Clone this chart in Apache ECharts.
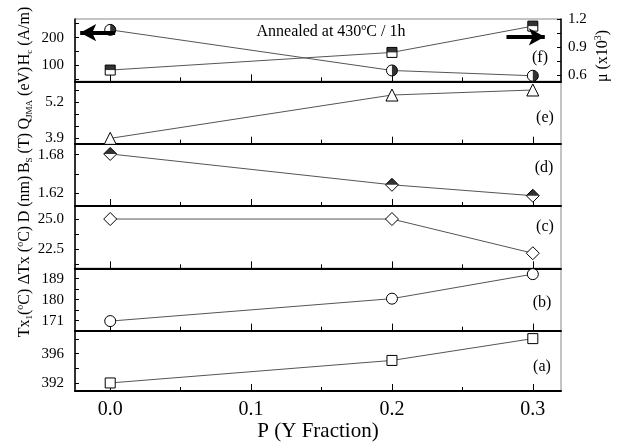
<!DOCTYPE html>
<html>
<head>
<meta charset="utf-8">
<script src="https://cdn.jsdelivr.net/npm/echarts@6/dist/echarts.min.js"></script>
<style>
  html, body { margin: 0; padding: 0; background: #fff; }
  #chart { width: 619px; height: 443px; }
</style>
</head>
<body>
<div id="chart"></div>
<script>
// --- data ---
var P = [0, 0.2, 0.3];
var hcVals = [228, 82, 63];          // Hc (A/m), left axis of panel f
var muVals = [0.656, 0.844, 1.124];  // mu (x10^3), right axis of panel f
var qVals = [3.9, 5.45, 5.63];       // Q_JMA (eV)
var bsVals = [1.681, 1.633, 1.616];  // Bs (T)
var dVals = [25.0, 25.0, 22.17];     // D (nm)
var dtxVals = [170.8, 180.4, 190.9]; // dTx (C)
var txVals = [392, 395.08, 398.06];  // Tx1 (C)

var xTicks = [0, 0.05, 0.1, 0.15, 0.2, 0.25, 0.3];
var xMajor = [0, 0.1, 0.2, 0.3];
var hcTicks = [50, 100, 150, 200, 250], hcLabels = [100, 200];
var muTicks = [0.6, 0.75, 0.9, 1.05, 1.2], muLabels = [0.6, 0.9, 1.2];
var qTicks = [3.9, 4.333, 4.767, 5.2, 5.633], qLabels = [3.9, 5.2];
var bsTicks = [1.62, 1.65, 1.68], bsLabels = [1.62, 1.68];
var dTicks = [21.25, 22.5, 23.75, 25], dLabels = [22.5, 25];
var dtxTicks = [171, 175.5, 180, 184.5, 189], dtxLabels = [171, 180, 189];
var txTicks = [392, 394, 396, 398], txLabels = [392, 396];

// arrows: [x from, x to (tip), y]
var hcArrow = [0.0035, -0.0213, 218];
var muArrow = [0.2813, 0.3085, 1.01];

var FONT = '"Liberation Serif", "DejaVu Serif", serif';
var rich = {
  sub: { fontSize: 9, fontFamily: FONT, padding: [9, 0, 0, 0] },
  sup: { fontSize: 10, fontFamily: FONT, padding: [0, 0, 9, 0] }
};

var chart = echarts.init(document.getElementById('chart'), null, { renderer: 'canvas' });

var panelTop = 19, panelH = 62.33;
var grids = [], xAxes = [], yAxes = [];
for (var i = 0; i < 6; i++) {
  grids.push({
    left: 75, right: 58, top: panelTop + i * panelH, height: panelH,
    show: true, borderColor: '#888', borderWidth: 1, backgroundColor: 'transparent'
  });
  xAxes.push({
    type: 'value', gridIndex: i, position: 'bottom', min: -0.025, max: 0.32,
    axisLine: { onZero: false, lineStyle: { color: '#000', width: 2 } },
    axisTick: { inside: true, length: 4, customValues: xTicks, lineStyle: { color: '#000', width: 1 } },
    axisLabel: {
      show: i === 5, customValues: xMajor, margin: 9,
      formatter: function(v) { return v.toFixed(1); },
      fontFamily: FONT, fontSize: 20, color: '#000'
    },
    splitLine: { show: false },
    name: i === 5 ? 'P (Y Fraction)' : '',
    nameLocation: 'middle', nameGap: 30,
    nameTextStyle: { fontFamily: FONT, fontSize: 21, color: '#000' }
  });
}
// second x axis per panel: longer ticks at the labelled positions
for (var j = 0; j < 6; j++) {
  xAxes.push({
    type: 'value', gridIndex: j, position: 'bottom', offset: 0, min: -0.025, max: 0.32,
    axisLine: { show: false, onZero: false },
    axisTick: { inside: true, length: 7, customValues: xMajor, lineStyle: { color: '#000', width: 1 } },
    axisLabel: { show: false },
    splitLine: { show: false }
  });
}

function leftAxis(idx, min, max, ticks, labels, digits) {
  return {
    type: 'value', gridIndex: idx, position: 'left', min: min, max: max,
    axisLine: { show: true, onZero: false, lineStyle: { color: '#000', width: 1.5 } },
    axisTick: { show: true, inside: true, length: 4, customValues: ticks, lineStyle: { color: '#000' } },
    axisLabel: {
      customValues: labels, margin: 11,
      formatter: function(v) { return v.toFixed(digits); },
      fontFamily: FONT, fontSize: 15, color: '#000'
    },
    splitLine: { show: false }
  };
}
yAxes.push(leftAxis(0, 43, 267, hcTicks, hcLabels, 0));
yAxes.push(leftAxis(1, 3.71, 5.94, qTicks, qLabels, 1));
yAxes.push(leftAxis(2, 1.600, 1.697, bsTicks, bsLabels, 2));
yAxes.push(leftAxis(3, 20.92, 26.08, dTicks, dLabels, 1));
yAxes.push(leftAxis(4, 166.7, 193.4, dtxTicks, dtxLabels, 0));
yAxes.push(leftAxis(5, 390.9, 399.15, txTicks, txLabels, 0));
var muAxis = leftAxis(0, 0.536, 1.2, muTicks, muLabels, 1);
muAxis.position = 'right';
muAxis.axisLabel.margin = 7;
yAxes.push(muAxis);

function pts(vals) { return P.map(function(p, k) { return [p, vals[k]]; }); }

function lineSeries(xi, yi, vals, symbol, size) {
  return {
    type: 'line', xAxisIndex: xi, yAxisIndex: yi, data: pts(vals),
    symbol: symbol, symbolSize: size, showAllSymbol: true,
    lineStyle: { color: '#555', width: 1 },
    itemStyle: { color: '#fff', borderColor: '#000', borderWidth: 1 },
    z: 3
  };
}
function halfFill(xi, yi, vals, symbol, size, offset) {
  return {
    type: 'scatter', xAxisIndex: xi, yAxisIndex: yi, data: pts(vals),
    symbol: symbol, symbolSize: size, symbolOffset: offset,
    itemStyle: { color: '#000' }, silent: true, z: 4
  };
}
function arrowLine(a) {
  return {
    silent: true, animation: false,
    symbol: ['none', 'arrow'], symbolSize: [13, 16],
    lineStyle: { color: '#000', width: 4, type: 'solid' },
    label: { show: false },
    data: [[{ coord: [a[0], a[2]] }, { coord: [a[1], a[2]] }]]
  };
}

var halfCircle = 'path://M0,0 A10,10 0 0 1 0,20 Z';
var halfDiamond = 'path://M0,10 L10,0 L20,10 Z';

var hcLine = lineSeries(0, 0, hcVals, 'circle', 11);
hcLine.markLine = arrowLine(hcArrow);
var muLine = lineSeries(0, 6, muVals, 'rect', 10);
muLine.markLine = arrowLine(muArrow);

var series = [
  hcLine,
  halfFill(0, 0, hcVals, halfCircle, [5.5, 11], [2.75, 0]),
  muLine,
  halfFill(0, 6, muVals, 'rect', [10, 5], [0, -2.5]),
  lineSeries(1, 1, qVals, 'triangle', 12),
  lineSeries(2, 2, bsVals, 'diamond', 13),
  halfFill(2, 2, bsVals, halfDiamond, [13, 6.5], [0, -3.25]),
  lineSeries(3, 3, dVals, 'diamond', 13),
  lineSeries(4, 4, dtxVals, 'circle', 11),
  lineSeries(5, 5, txVals, 'rect', 10)
];

function vText(x, y, text) {
  return {
    type: 'text', x: x, y: y, rotation: Math.PI / 2, silent: true,
    style: {
      text: text, rich: rich, fontFamily: FONT, fontSize: 16, fill: '#000',
      align: 'center', verticalAlign: 'middle'
    }
  };
}
function tag(x, y, text) {
  return {
    type: 'text', x: x, y: y, silent: true,
    style: { text: text, fontFamily: FONT, fontSize: 16, fill: '#000', align: 'center', verticalAlign: 'middle' }
  };
}

var graphics = [
  vText(25, 36, 'H{sub|c} (A/m)'),
  vText(25, 98, 'Q{sub|JMA} (eV)'),
  vText(25, 153, 'B{sub|S} (T)'),
  vText(25, 199, 'D (nm)'),
  vText(25, 255, '\u0394Tx ({sup|o}C)'),
  vText(25, 313, 'Tx{sub|1}({sup|o}C)'),
  vText(603, 56, '\u03bc (x10{sup|3})'),
  tag(540, 58, '(f)'),
  tag(545, 118, '(e)'),
  tag(544, 168, '(d)'),
  tag(545, 227, '(c)'),
  tag(542, 303, '(b)'),
  tag(542, 367, '(a)'),
  {
    type: 'text', x: 331, y: 32, silent: true,
    style: {
      text: 'Annealed at 430{sup|o}C / 1h', rich: rich, fontFamily: FONT, fontSize: 16,
      fill: '#000', align: 'center', verticalAlign: 'middle'
    }
  }
];

chart.setOption({
  animation: false,
  backgroundColor: '#fff',
  grid: grids,
  xAxis: xAxes,
  yAxis: yAxes,
  series: series,
  graphic: graphics
});
window.addEventListener('resize', function() { chart.resize(); });
</script>
</body>
</html>
